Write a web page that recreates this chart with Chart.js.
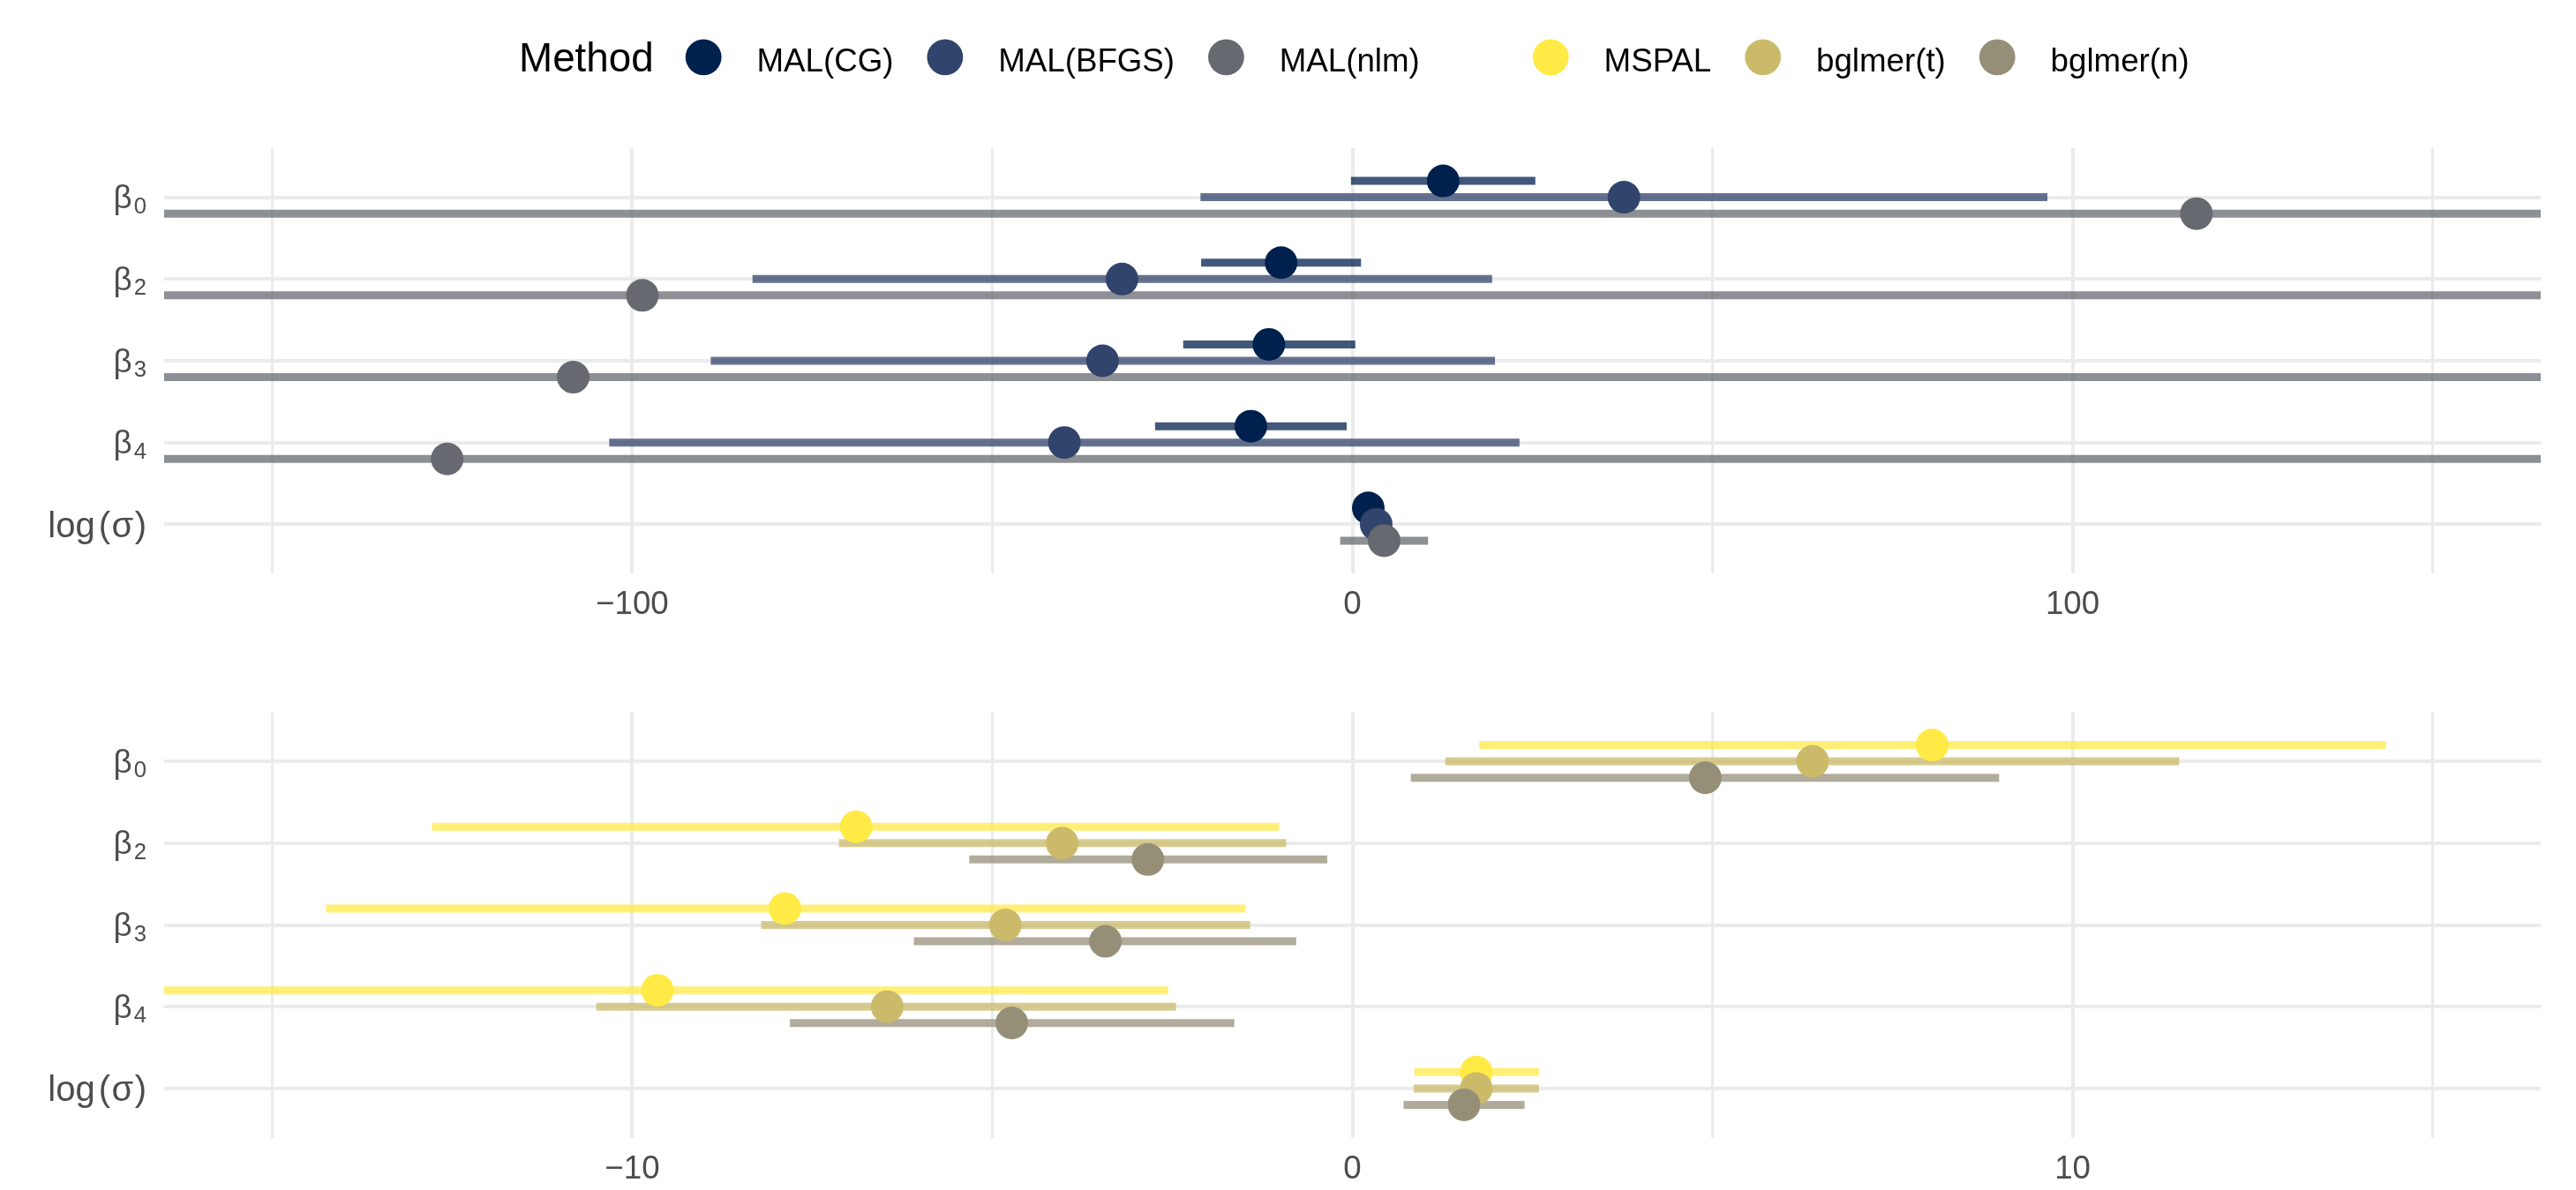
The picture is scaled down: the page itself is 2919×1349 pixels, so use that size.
<!DOCTYPE html>
<html>
<head>
<meta charset="utf-8">
<title>Parameter estimates by method</title>
<script src="https://cdn.jsdelivr.net/npm/chart.js@4.4.1/dist/chart.umd.min.js"></script>
<style>
  html, body { margin: 0; padding: 0; background: #ffffff; }
  canvas { position: absolute; left: 0; }
  #topChart { top: 0; }
  #bottomChart { top: 740px; }
</style>
</head>
<body>
<canvas id="topChart" width="2919" height="740" style="width:2919px;height:740px"></canvas>
<canvas id="bottomChart" width="2919" height="609" style="width:2919px;height:609px"></canvas>
<script>
// ---- data ---------------------------------------------------------------
// Parameters (an underscore marks a subscript)
const parameters = ['β_0', 'β_2', 'β_3', 'β_4', 'log(σ)'];

// Upper panel: MAL fits with different optimisers
const topMethods = ['MAL(CG)', 'MAL(BFGS)', 'MAL(nlm)'];
const malCG_est    = [12.6,  -9.9, -11.6, -14.1, 2.2];
const malCG_lo     = [-0.2, -21.0, -23.5, -27.4, 1.0];
const malCG_hi     = [25.4,   1.2,   0.4,  -0.8, 3.4];
const malBFGS_est  = [37.7, -32.0, -34.7, -40.0, 3.3];
const malBFGS_lo   = [-21.1, -83.3, -89.1, -103.2, 2.0];
const malBFGS_hi   = [96.5,  19.4,  19.8,  23.2, 4.6];
const malNlm_est   = [117.2, -98.6, -108.2, -125.7, 4.4];
const malNlm_lo    = [-420, -560, -590, -640, -1.7];
const malNlm_hi    = [655, 365, 375, 390, 10.5];

// Lower panel: MSPAL and bglmer fits
const bottomMethods = ['MSPAL', 'bglmer(t)', 'bglmer(n)'];
const mspal_est    = [8.05, -6.89, -7.88, -9.65, 1.72];
const mspal_lo     = [1.76, -12.78, -14.25, -17.8, 0.86];
const mspal_hi     = [14.35, -1.02, -1.49, -2.56, 2.59];
const bglmerT_est  = [6.39, -4.03, -4.82, -6.46, 1.72];
const bglmerT_lo   = [1.29, -7.13, -8.21, -10.50, 0.85];
const bglmerT_hi   = [11.48, -0.92, -1.42, -2.45, 2.59];
const bglmerN_est  = [4.90, -2.84, -3.43, -4.73, 1.55];
const bglmerN_lo   = [0.81, -5.32, -6.09, -7.81, 0.71];
const bglmerN_hi   = [8.98, -0.35, -0.78, -1.64, 2.39];

// Axis ticks
const topMajorTicks = [-100, 0, 100];
const topMinorTicks = [-150, -50, 50, 150];
const bottomMajorTicks = [-10, 0, 10];
const bottomMinorTicks = [-15, -5, 5, 15];

// ---- styling --------------------------------------------------------------
const FONT = '"Liberation Sans", Arial, Helvetica, sans-serif';
const AXIS_PX = 36.7;
const MATH_PX = 40;
const SUB_PX = 25.7;
const LEGEND_PX = 36.7;
const TITLE_PX = 45.8;
const TEXT_GREY = '#4D4D4D';
const GRID = '#EBEBEB';
const topColors = ['#00204D', '#31446B', '#666970'];
const bottomColors = ['#FFEA46', '#CBBA69', '#958F78'];
const dodge = [-0.2, 0, 0.2];
const LINE_ALPHA = 0.75;

function withAlpha(hex, a) {
  const r = parseInt(hex.slice(1, 3), 16), g = parseInt(hex.slice(3, 5), 16), b = parseInt(hex.slice(5, 7), 16);
  return `rgba(${r},${g},${b},${a})`;
}
function fmtTick(v) {
  return v < 0 ? '\u2212' + Math.abs(v) : String(v);
}

function buildDatasets(methods, est, lo, hi, colors) {
  const lines = [], points = [];
  methods.forEach((m, k) => {
    const segs = [];
    parameters.forEach((_, i) => {
      const yv = i + dodge[k];
      segs.push({ x: lo[k][i], y: yv }, { x: hi[k][i], y: yv }, { x: null, y: null });
    });
    lines.push({
      label: m + ' interval', data: segs, showLine: true, spanGaps: false,
      borderColor: withAlpha(colors[k], LINE_ALPHA), borderWidth: 9, borderCapStyle: 'butt',
      pointRadius: 0, pointHoverRadius: 0, tension: 0, clip: 0, order: 20 - k
    });
    points.push({
      label: m, data: est[k].map((v, i) => ({ x: v, y: i + dodge[k] })), showLine: false,
      pointRadius: 18.5, pointHoverRadius: 18.5, pointBorderWidth: 0,
      pointBackgroundColor: colors[k], backgroundColor: colors[k], borderColor: colors[k],
      clip: false, order: 10 - k
    });
  });
  return lines.concat(points);
}

// Parameter names on the left: β with a subscript, log(σ) set as a math expression
const paramLabels = {
  id: 'paramLabels',
  afterDraw(chart) {
    const { ctx } = chart;
    const y = chart.scales.y;
    const right = 166;
    ctx.save();
    ctx.fillStyle = TEXT_GREY;
    ctx.textAlign = 'left';
    ctx.textBaseline = 'alphabetic';
    parameters.forEach((p, i) => {
      const yc = y.getPixelForValue(i);
      if (p.includes('_')) {
        const [base, sub] = p.split('_');
        ctx.font = `${AXIS_PX}px ${FONT}`;
        const wb = ctx.measureText(base).width;
        ctx.font = `${SUB_PX}px ${FONT}`;
        const ws = ctx.measureText(sub).width + 2;
        const x0 = right - ws - wb;
        const baseY = yc + 12.5;
        ctx.font = `${AXIS_PX}px ${FONT}`;
        ctx.fillText(base, x0, baseY);
        ctx.font = `${SUB_PX}px ${FONT}`;
        ctx.fillText(sub, x0 + wb + 2, baseY + 5.5);
      } else {
        // split into function name, brackets and argument with small math spacing
        const m = p.match(/^(\w+)\((.*)\)$/);
        const parts = m ? [m[1], '(', m[2], ')'] : [p];
        const gaps = m ? [4, 1.5, 1.5, 0] : [0];
        ctx.font = `${MATH_PX}px ${FONT}`;
        const widths = parts.map(s => ctx.measureText(s).width);
        const total = widths.reduce((a, b) => a + b, 0) + gaps.reduce((a, b) => a + b, 0);
        let x = right - total;
        const baseY = yc + 14.3;
        parts.forEach((s, j) => {
          ctx.fillText(s, x, baseY);
          x += widths[j] + gaps[j];
        });
      }
    });
    ctx.restore();
  }
};

// Shared legend across the top
const methodLegend = {
  id: 'methodLegend',
  afterDraw(chart) {
    const { ctx } = chart;
    const groups = [
      topMethods.map((m, k) => ({ label: m, color: topColors[k] })),
      bottomMethods.map((m, k) => ({ label: m, color: bottomColors[k] }))
    ];
    const baseline = 80.5, cy = 64.8, r = 20.4;
    ctx.save();
    ctx.fillStyle = '#000000';
    ctx.textBaseline = 'alphabetic';
    ctx.textAlign = 'left';
    ctx.font = `${TITLE_PX}px ${FONT}`;
    let x = 588;
    ctx.fillText('Method', x, baseline);
    x += ctx.measureText('Method').width + 36;
    groups.forEach((grp, gi) => {
      if (gi > 0) x += 90;
      grp.forEach(item => {
        const cx = x + r;
        ctx.beginPath();
        ctx.arc(cx, cy, r, 0, Math.PI * 2);
        ctx.fillStyle = item.color;
        ctx.fill();
        ctx.fillStyle = '#000000';
        ctx.font = `${LEGEND_PX}px ${FONT}`;
        const tx = cx + 60.4;
        ctx.fillText(item.label, tx, baseline);
        x = tx + ctx.measureText(item.label).width + 38;
      });
    });
    ctx.restore();
  }
};

function makePanel(canvasId, methods, est, lo, hi, colors, range, major, minor, padTop, axisHeight, extraPlugins) {
  const allTicks = minor.concat(major).sort((a, b) => a - b);
  return new Chart(document.getElementById(canvasId), {
    type: 'scatter',
    data: { datasets: buildDatasets(methods, est, lo, hi, colors) },
    options: {
      responsive: false,
      animation: false,
      devicePixelRatio: 1,
      events: [],
      layout: { padding: { top: padTop, right: 40, bottom: 0, left: 0 } },
      plugins: { legend: { display: false }, tooltip: { enabled: false } },
      scales: {
        x: {
          type: 'linear', position: 'bottom', min: -range, max: range,
          afterBuildTicks: s => { s.ticks = allTicks.map(v => ({ value: v })); },
          afterFit: s => { s.height = axisHeight; },
          border: { display: false },
          grid: {
            color: GRID, drawTicks: false,
            lineWidth: c => (c.tick && major.includes(c.tick.value)) ? 4 : 3
          },
          ticks: {
            autoSkip: false, maxRotation: 0, minRotation: 0, padding: 14,
            color: TEXT_GREY, font: { family: FONT, size: AXIS_PX },
            callback: v => major.includes(v) ? fmtTick(v) : ''
          }
        },
        y: {
          type: 'linear', min: -0.6, max: parameters.length - 1 + 0.6, reverse: true,
          afterBuildTicks: s => { s.ticks = parameters.map((_, i) => ({ value: i })); },
          afterFit: s => { s.width = 186; },
          border: { display: false },
          grid: { color: GRID, lineWidth: 4, drawTicks: false },
          ticks: { display: false }
        }
      }
    },
    plugins: [paramLabels].concat(extraPlugins)
  });
}

makePanel('topChart', topMethods,
  [malCG_est, malBFGS_est, malNlm_est],
  [malCG_lo, malBFGS_lo, malNlm_lo],
  [malCG_hi, malBFGS_hi, malNlm_hi],
  topColors, 165, topMajorTicks, topMinorTicks, 168, 90, [methodLegend]);

makePanel('bottomChart', bottomMethods,
  [mspal_est, bglmerT_est, bglmerN_est],
  [mspal_lo, bglmerT_lo, bglmerN_lo],
  [mspal_hi, bglmerT_hi, bglmerN_hi],
  bottomColors, 16.5, bottomMajorTicks, bottomMinorTicks, 67.5, 59.5, []);
</script>
</body>
</html>
